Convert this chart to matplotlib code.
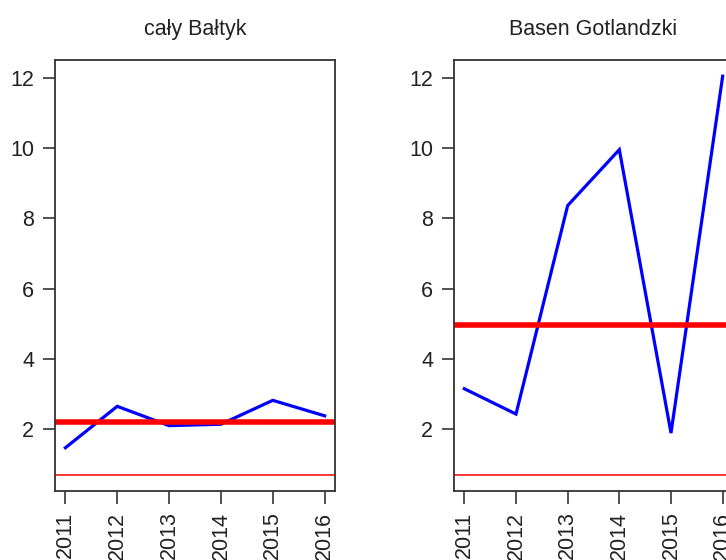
import matplotlib
matplotlib.use("Agg")
import matplotlib.pyplot as plt

plt.rcParams['font.family'] = ['Liberation Sans', 'DejaVu Sans']

# Data
years = [2011, 2012, 2013, 2014, 2015, 2016]
caly_baltyk = [1.47, 2.65, 2.10, 2.14, 2.82, 2.38]
basen_gotlandzki = [3.15, 2.43, 8.36, 9.95, 1.89, 12.04]
titles = ["cały Bałtyk", "Basen Gotlandzki"]
mean_lines = [2.2, 4.96]
low_line = 0.71

fig = plt.figure(figsize=(7.26, 5.6), dpi=100)

# axes positions in figure fraction (right panel is cut by the image edge)
positions = [
    [55 / 726, 69.3 / 560, 280 / 726, 430.7 / 560],
    [454 / 726, 69.3 / 560, 279 / 726, 430.7 / 560],
]
series = [caly_baltyk, basen_gotlandzki]

for pos, vals, title, mline in zip(positions, series, titles, mean_lines):
    ax = fig.add_axes(pos)
    ax.plot(years, vals, color="#0000FF", linewidth=2.3, solid_joinstyle="miter")
    ax.axhline(mline, color="#FF0000", linewidth=4)
    ax.axhline(low_line, color="#FF0000", linewidth=1.1)
    ax.set_xlim(2010.8, 2016.2)
    ax.set_ylim(0.25, 12.5)
    ax.set_xticks(years)
    ax.set_xticklabels([str(y) for y in years], rotation=90)
    ax.set_yticks([2, 4, 6, 8, 10, 12])
    ax.tick_params(direction="out", length=9, width=1.1, labelsize=15.5,
                   pad=6, colors="#222222")
    for s in ax.spines.values():
        s.set_linewidth(1.3)
        s.set_color("#333333")
    ax.set_title(title, fontsize=15.5, pad=18, color="#222222")

fig.savefig("out.png", dpi=100)
